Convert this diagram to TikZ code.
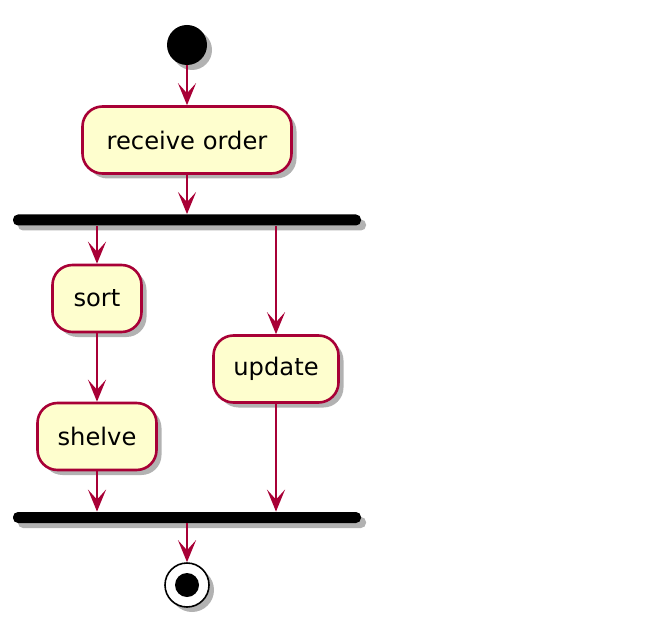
\documentclass[tikz,border=0pt]{standalone}
\usepackage{fontspec}
\setmainfont{DejaVu Sans}
\usetikzlibrary{arrows.meta,shadows}
\definecolor{umlred}{HTML}{A80036}
\definecolor{umlfill}{HTML}{FEFECE}
\begin{document}
\begin{tikzpicture}[x=0.5pt, y=-0.5pt,
    shady/.style={drop shadow={shadow xshift=2.5pt, shadow yshift=-2.5pt, opacity=0.3, fill=black}},
    action/.style={rectangle, rounded corners=10pt, draw=umlred, fill=umlfill, line width=1.3pt,
      minimum height=33.5pt, inner sep=0pt, font=\fontsize{12.1}{14}\selectfont, shady},
    startdot/.style={circle, fill=black, minimum size=20pt, inner sep=0pt, shady},
    stopdot/.style={circle, draw=black, line width=0.8pt, fill=white, minimum size=22pt, inner sep=0pt, shady,
      path picture={\fill[black] (path picture bounding box.center) circle (6pt);}},
    bar/.style={rectangle, fill=black, rounded corners=2.5pt, minimum width=174pt, minimum height=5.5pt,
      inner sep=0pt, shady},
    flow/.style={draw=umlred, line width=1.2pt, -{Stealth[length=11pt, width=9pt, inset=5pt]}}]
  \useasboundingbox (0,0) rectangle (651,635);
  \node[startdot] (start) at (187,45) {};
  \node[action, minimum width=104.5pt] (recv) at (187,140) {receive order};
  \node[bar] (fork) at (187,220) {};
  \node[action, minimum width=44.5pt] (sort) at (97,298.5) {sort};
  \node[action, minimum width=59.5pt] (shelve) at (97,436.5) {shelve};
  \node[action, minimum width=62.5pt] (update) at (276,369) {update};
  \node[bar] (join) at (187,517.5) {};
  \node[stopdot] (stop) at (187,585) {};
  \begin{scope}[flow]
    \draw (start) to (recv);
    \draw (recv) to (fork);
    \draw (sort |- fork.south) to (sort);
    \draw (update |- fork.south) to (update);
    \draw (sort) to (shelve);
    \draw (shelve) to (shelve |- join.north);
    \draw (update) to (update |- join.north);
    \draw (join) to (stop);
  \end{scope}
\end{tikzpicture}
\end{document}
